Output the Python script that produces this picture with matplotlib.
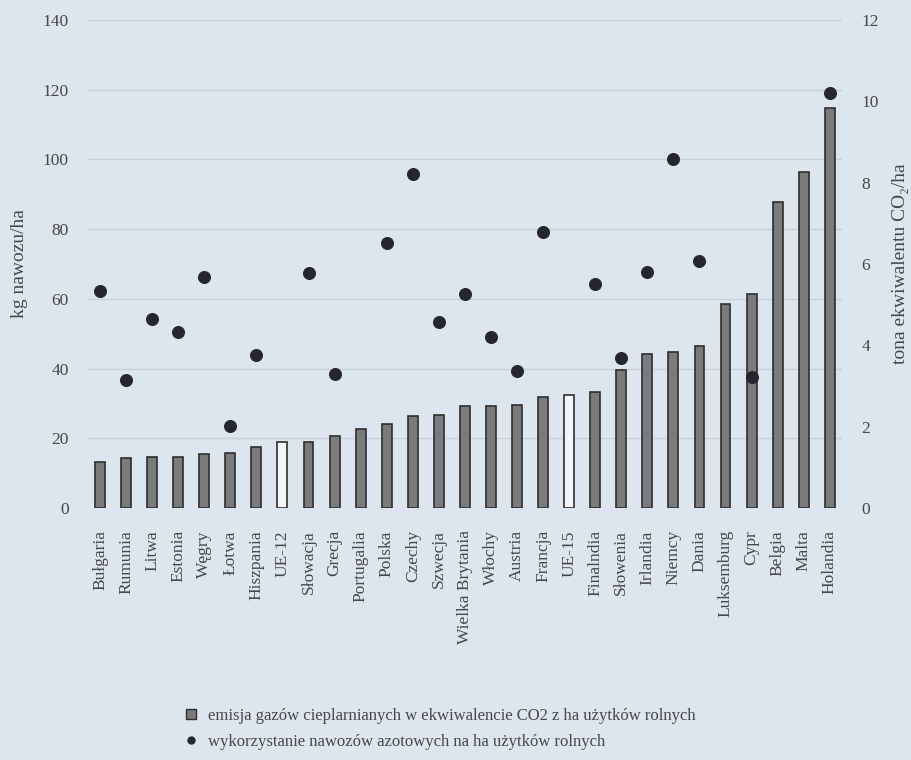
import matplotlib.pyplot as plt
import numpy as np
from matplotlib.lines import Line2D
from matplotlib.ticker import FixedLocator

# Dane
kraje = ['Bułgaria', 'Rumunia', 'Litwa', 'Estonia', 'Węgry', 'Łotwa', 'Hiszpania',
         'UE-12', 'Słowacja', 'Grecja', 'Portugalia', 'Polska', 'Czechy', 'Szwecja',
         'Wielka Brytania', 'Włochy', 'Austria', 'Francja', 'UE-15', 'Finalndia',
         'Słowenia', 'Irlandia', 'Niemcy', 'Dania', 'Luksemburg', 'Cypr', 'Belgia',
         'Malta', 'Holandia']

# emisja gazów cieplarnianych, t CO2/ha (oś prawa)
emisja_co2 = [1.14, 1.24, 1.26, 1.26, 1.33, 1.36, 1.51, 1.63, 1.63, 1.77, 1.94, 2.07,
              2.26, 2.29, 2.51, 2.51, 2.53, 2.73, 2.79, 2.84, 3.39, 3.79, 3.84, 3.99,
              5.01, 5.25, 7.52, 8.27, 9.83]

# nawozy azotowe, kg/ha (oś lewa); nan = brak danych
nawozy_n = [62.2, 36.7, 54.1, 50.4, 66.2, 23.6, 43.8, np.nan, 67.5, 38.4, np.nan, 75.9,
            95.8, 53.3, 61.4, 49.1, 39.4, 79.3, np.nan, 64.3, 42.9, 67.8, 100.0, 70.9,
            np.nan, 37.7, np.nan, np.nan, 119.1]

etykiety_legendy = ['emisja gazów cieplarnianych w ekwiwalencie CO2 z ha użytków rolnych',
                    'wykorzystanie nawozów azotowych na ha użytków rolnych']

tlo = '#dde5ee'
tekst = '#474747'

plt.rcParams['font.family'] = ['Liberation Serif', 'DejaVu Serif']

fig = plt.figure(figsize=(9.12, 7.6), dpi=100, facecolor=tlo)
ax = fig.add_axes([0.0965, 0.3316, 0.8265, 0.6421])
ax2 = ax.twinx()

# słupki na osi prawej, pod kropkami
ax.set_zorder(2)
ax.patch.set_visible(False)
ax2.set_zorder(1)
ax2.patch.set_facecolor(tlo)

x = np.arange(len(kraje))
kolory = ['#f3f5f7' if k.startswith('UE') else '#7b7b7b' for k in kraje]
ax2.bar(x, emisja_co2, width=0.38, color=kolory, edgecolor='#2e2e2e', linewidth=1.2, zorder=2)
ax2.set_ylim(0, 12)
ax2.set_yticks(range(0, 13, 2))
# linie siatki w miejscach podziałki lewej osi
ax2.yaxis.remove_overlapping_locs = False
ax2.yaxis.set_minor_locator(FixedLocator(np.arange(20, 141, 20) * 12 / 140))
ax2.grid(which='minor', axis='y', color='#c7cfd9', linewidth=1.0, zorder=0)
ax2.tick_params(which='both', length=0)
ax2.tick_params(axis='y', pad=14, labelsize=12.5, labelcolor=tekst)
ax2.set_ylabel('tona ekwiwalentu CO₂/ha', fontsize=14, color=tekst)
ax2.yaxis.set_label_coords(1.066, 0.5)

ax.scatter(x, nawozy_n, s=70, color='#26262e', zorder=3)
ax.set_ylim(0, 140)
ax.set_yticks(range(0, 141, 20))
ax.set_xlim(-0.46, len(kraje) - 0.54)
ax.set_xticks(x)
ax.set_xticklabels(kraje, rotation=90)
ax.tick_params(length=0)
ax.tick_params(axis='y', pad=14, labelsize=12.5, labelcolor=tekst)
ax.tick_params(axis='x', pad=16, labelsize=12.5, labelcolor=tekst)
ax.set_ylabel('kg nawozu/ha', fontsize=14, color=tekst)
ax.yaxis.set_label_coords(-0.080, 0.5)

for a in (ax, ax2):
    for s in a.spines.values():
        s.set_visible(False)

uchwyty = [
    Line2D([], [], marker='s', linestyle='none', markersize=7,
           markerfacecolor='#7b7b7b', markeredgecolor='#2e2e2e'),
    Line2D([], [], marker='o', linestyle='none', markersize=5, color='#26262e'),
]
fig.legend(uchwyty, etykiety_legendy, loc='center left', bbox_to_anchor=(0.193, 0.0414),
           frameon=False, fontsize=12, handlelength=0.8, handletextpad=0.6,
           labelspacing=0.6, borderpad=0, labelcolor=tekst)

fig.savefig('out.png', dpi=100, facecolor=tlo)
